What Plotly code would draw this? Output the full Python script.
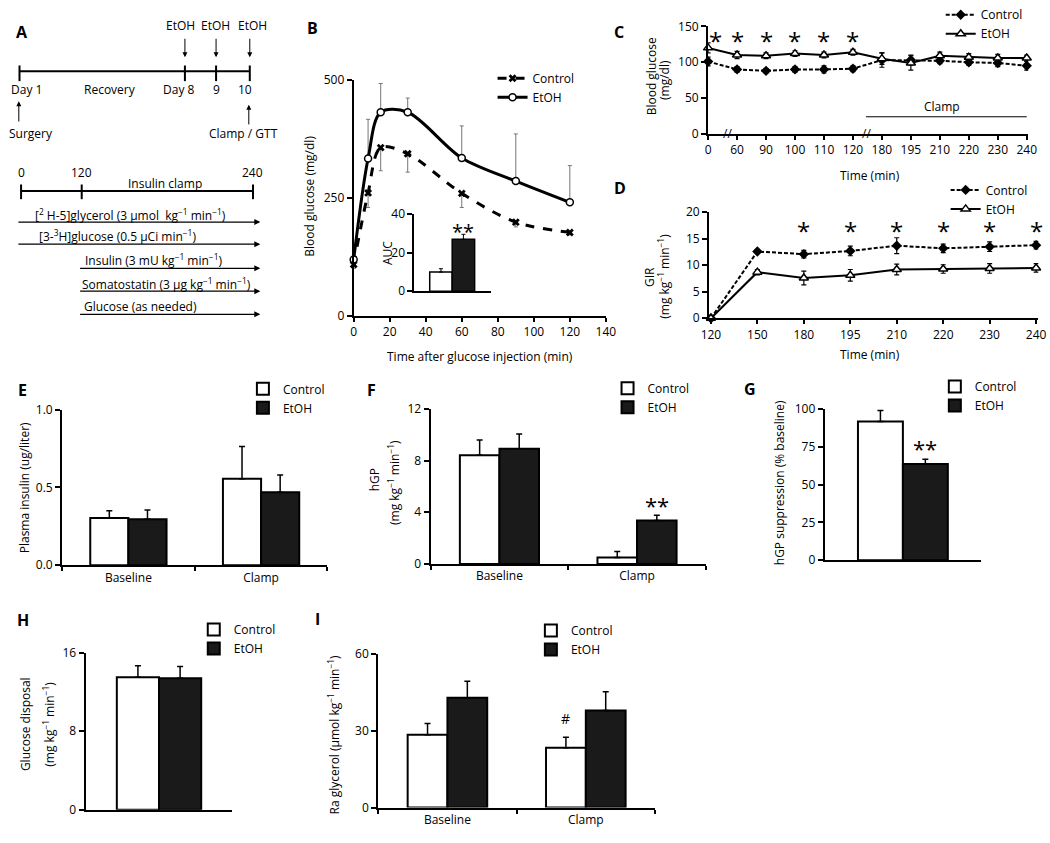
import plotly.graph_objects as go

W, H = 1050, 843
FONT = "Open Sans"

# ---------------- Panel B: glucose tolerance test ----------------
b_time = [0, 8, 15, 30, 60, 90, 120]
b_control = [109, 261, 357, 344, 260, 199, 177]
b_control_err = [8, 31, 49, 39, 30, 10, 5]
b_etoh = [120, 334, 432, 432, 335, 286, 241]
b_etoh_err = [5, 83, 61, 30, 68, 100, 78]
b_xticks = [0, 20, 40, 60, 80, 100, 120, 140]
b_yticks = [0, 250, 500]
b_star_time = [30]
b_star_value = [509]

auc_pos = [0, 1]
auc_values = [9.9, 26.8]
auc_err = [1.7, 2.6]
auc_yticks = [0, 20, 40]

# ---------------- Panel C: blood glucose during clamp ----------------
c_time_labels = ["0", "60", "90", "100", "110", "120", "180", "195", "210", "220", "230", "240"]
c_control = [101, 90, 88, 90, 90, 91, 103, 103, 102, 100, 99, 95]
c_control_err = [6, 4, 3, 4, 5, 4, 10, 7, 4, 4, 5, 6]
c_etoh = [120, 110, 109, 112, 110, 114, 105, 99, 109, 107, 106, 106]
c_etoh_err = [7, 5, 4, 4, 4, 4, 8, 10, 5, 5, 5, 4]
c_yticks = [0, 50, 100, 150]
c_star_pos = [0.25, 1, 2, 3, 4, 5]
c_star_value = 137

# ---------------- Panel D: GIR ----------------
d_time_labels = ["120", "150", "180", "195", "210", "220", "230", "240"]
d_control = [0, 12.6, 12.1, 12.7, 13.7, 13.2, 13.5, 13.8]
d_control_err = [0, 0.3, 0.7, 0.9, 1.5, 0.8, 0.9, 0.7]
d_etoh = [0, 8.7, 7.6, 8.1, 9.2, 9.3, 9.4, 9.5]
d_etoh_err = [0, 0.5, 1.3, 1.1, 1.0, 0.8, 0.9, 0.8]
d_yticks = [0, 5, 10, 15, 20]
d_star_pos = [2, 3, 4, 5, 6, 7]
d_star_value = 17.5

# ---------------- Bar panels ----------------
bar_cats = ["Baseline", "Clamp"]
e_control = [0.304, 0.555]
e_control_err = [0.046, 0.208]
e_etoh = [0.295, 0.469]
e_etoh_err = [0.060, 0.111]
e_yticks = [0.0, 0.5, 1.0]

f_control = [8.42, 0.5]
f_control_err = [1.18, 0.46]
f_etoh = [8.92, 3.36]
f_etoh_err = [1.14, 0.40]
f_yticks = [0, 4, 8, 12]

g_cat = ["hGP"]
g_control = [91.8]
g_control_err = [7.2]
g_etoh = [63.6]
g_etoh_err = [3.2]
g_yticks = [0, 25, 50, 75, 100]

h_cat = ["GD"]
h_control = [13.5]
h_control_err = [1.17]
h_etoh = [13.4]
h_etoh_err = [1.2]
h_yticks = [0, 8, 16]

i_control = [28.5, 23.4]
i_control_err = [4.4, 4.1]
i_etoh = [43.0, 38.0]
i_etoh_err = [6.4, 7.3]
i_yticks = [0, 30, 60]

# ---------------- helpers ----------------
def PX(x):
    return x / W

def PY(y):
    return 1 - y / H

def clamp01(v):
    return min(1.0, max(0.0, v))

def xd(a, b):
    return [clamp01(PX(a)), clamp01(PX(b))]

def yd(top, bottom):
    return [clamp01(PY(bottom)), clamp01(PY(top))]

GROUP_OFF = (1 - 0.425) / 4  # center offset of each bar in a 2-bar group

fig = go.Figure()

def up_err(err, color="black", thick=1.5, width=3):
    return dict(type="data", symmetric=False, array=err, arrayminus=[0] * len(err),
                color=color, thickness=thick, width=width)

def down_err(err, color="black", thick=1.5, width=3):
    return dict(type="data", symmetric=False, array=[0] * len(err), arrayminus=err,
                color=color, thickness=thick, width=width)

def sym_err(err):
    return dict(type="data", array=err, color="black", thickness=1.2, width=2.5)

# ---- B
fig.add_trace(go.Scatter(
    x=b_time, y=b_control, name="Control", mode="lines+markers",
    line=dict(color="black", width=3, dash="dash", shape="spline", smoothing=0.9),
    marker=dict(symbol="x", size=7, color="black"),
    error_y=down_err(b_control_err, color="#777", thick=1, width=2),
    xaxis="x", yaxis="y", legend="legend", cliponaxis=False))
fig.add_trace(go.Scatter(
    x=b_time, y=b_etoh, name="EtOH", mode="lines+markers",
    line=dict(color="black", width=3, shape="spline", smoothing=0.9),
    marker=dict(symbol="circle", size=7, color="white", line=dict(color="black", width=1.5)),
    error_y=up_err(b_etoh_err, color="#777", thick=1, width=2),
    xaxis="x", yaxis="y", legend="legend", cliponaxis=False))
fig.add_trace(go.Bar(
    x=auc_pos, y=auc_values, width=[1, 1], showlegend=False,
    marker=dict(color=["white", "#1a1a1a"], line=dict(color="black", width=1.5)),
    error_y=up_err(auc_err, thick=1, width=2), xaxis="x2", yaxis="y2"))

# ---- C
fig.add_trace(go.Scatter(
    x=list(range(len(c_time_labels))), y=c_control, name="Control", mode="lines+markers",
    line=dict(color="black", width=2, dash="4px,2px"),
    marker=dict(symbol="diamond", size=8, color="black"),
    error_y=sym_err(c_control_err), xaxis="x3", yaxis="y3", legend="legend2", cliponaxis=False))
fig.add_trace(go.Scatter(
    x=list(range(len(c_time_labels))), y=c_etoh, name="EtOH", mode="lines+markers",
    line=dict(color="black", width=2),
    marker=dict(symbol="triangle-up", size=8, color="white", line=dict(color="black", width=1.5)),
    error_y=sym_err(c_etoh_err), xaxis="x3", yaxis="y3", legend="legend2", cliponaxis=False))

# ---- D
fig.add_trace(go.Scatter(
    x=list(range(len(d_time_labels))), y=d_control, name="Control", mode="lines+markers",
    line=dict(color="black", width=2, dash="4px,2px"),
    marker=dict(symbol="diamond", size=8, color="black"),
    error_y=sym_err(d_control_err), xaxis="x4", yaxis="y4", legend="legend3", cliponaxis=False))
fig.add_trace(go.Scatter(
    x=list(range(len(d_time_labels))), y=d_etoh, name="EtOH", mode="lines+markers",
    line=dict(color="black", width=2),
    marker=dict(symbol="triangle-up", size=8, color="white", line=dict(color="black", width=1.5)),
    error_y=sym_err(d_etoh_err), xaxis="x4", yaxis="y4", legend="legend3", cliponaxis=False))

# ---- bar panels
def add_bars(cats, ctrl, ctrl_err, etoh, etoh_err, xa, ya, lg):
    fig.add_trace(go.Bar(x=cats, y=ctrl, name="Control",
                         marker=dict(color="white", line=dict(color="black", width=2)),
                         error_y=up_err(ctrl_err), xaxis=xa, yaxis=ya, legend=lg))
    fig.add_trace(go.Bar(x=cats, y=etoh, name="EtOH",
                         marker=dict(color="#1a1a1a", line=dict(color="black", width=2)),
                         error_y=up_err(etoh_err), xaxis=xa, yaxis=ya, legend=lg))

add_bars(bar_cats, e_control, e_control_err, e_etoh, e_etoh_err, "x5", "y5", "legend4")
add_bars(bar_cats, f_control, f_control_err, f_etoh, f_etoh_err, "x6", "y6", "legend5")
add_bars(g_cat, g_control, g_control_err, g_etoh, g_etoh_err, "x7", "y7", "legend6")
add_bars(h_cat, h_control, h_control_err, h_etoh, h_etoh_err, "x8", "y8", "legend7")
add_bars(bar_cats, i_control, i_control_err, i_etoh, i_etoh_err, "x9", "y9", "legend8")

# ---------------- axes ----------------
def yax(dom, rng, tickvals, anchor, size=12, lw=2, ticktext=None):
    d = dict(domain=dom, range=rng, tickmode="array", tickvals=tickvals,
             ticks="outside", ticklen=5, tickwidth=1.5, tickcolor="black",
             showline=True, linecolor="black", linewidth=lw, showgrid=False,
             zeroline=False, anchor=anchor, tickfont=dict(size=size, color="black"),
             fixedrange=True)
    if ticktext is not None:
        d["ticktext"] = ticktext
    return d

def xlin(dom, rng, tickvals, anchor, ticktext=None, size=12, lw=2, ticks="outside"):
    d = dict(domain=dom, range=rng, tickmode="array", tickvals=tickvals,
             ticks=ticks, ticklen=4, tickwidth=1.5, tickcolor="black",
             showline=True, linecolor="black", linewidth=lw, showgrid=False,
             zeroline=False, anchor=anchor, tickfont=dict(size=size, color="black"),
             fixedrange=True)
    if ticktext is not None:
        d["ticktext"] = ticktext
    return d

def xcat(dom, anchor, n, labels=True):
    return dict(domain=dom, type="category", range=[-0.5, n - 0.5],
                tickson="boundaries", ticks="outside" if labels else "", ticklen=4,
                tickwidth=1.5, tickcolor="black", showticklabels=labels,
                showline=True, linecolor="black", linewidth=2, showgrid=False,
                zeroline=False, anchor=anchor, tickfont=dict(size=12, color="black"),
                fixedrange=True)

layout = dict(
    autosize=True, margin=dict(l=0, r=0, t=0, b=0),
    paper_bgcolor="white", plot_bgcolor="white",
    font=dict(family=FONT, size=12, color="black"),
    barmode="group", bargap=0.425, bargroupgap=0,
    xaxis=xlin(xd(351.7, 608.3), [0, 140], b_xticks, "y"),
    yaxis=yax(yd(71.7, 312.7), [0, 500], b_yticks, "x"),
    xaxis2=xlin(xd(413.3, 491.7), [-1.19, 2.24], [], "y2", lw=1.5, ticks=""),
    yaxis2=yax(yd(208.3, 287.3), [0, 40], auc_yticks, "x2", lw=1.5),
    xaxis3=xlin(xd(712.3, 1038), [0, 11.05], list(range(len(c_time_labels))), "y3",
                ticktext=c_time_labels),
    yaxis3=yax(yd(16.7, 126.7), [0, 150], c_yticks, "x3"),
    xaxis4=xlin(xd(713.3, 1048.4), [-0.04, 7.05], list(range(len(d_time_labels))), "y4",
                ticktext=d_time_labels),
    yaxis4=yax(yd(206.7, 315), [0, 20], d_yticks, "x4"),
    xaxis5=xcat(xd(55, 325), "y5", 2),
    yaxis5=yax(yd(408.3, 567.3), [0, 1.0], e_yticks, "x5", ticktext=["0.0", "0.5", "1.0"]),
    xaxis6=xcat(xd(430, 710), "y6", 2),
    yaxis6=yax(yd(407.7, 566), [0, 12], f_yticks, "x6"),
    xaxis7=xcat(xd(831, 990), "y7", 1, labels=False),
    yaxis7=yax(yd(407.7, 562.3), [0, 100], g_yticks, "x7"),
    xaxis8=xcat(xd(79, 228.3), "y8", 1, labels=False),
    yaxis8=yax(yd(656.7, 817.3), [0, 16], h_yticks, "x8"),
    xaxis9=xcat(xd(376.7, 658.3), "y9", 2),
    yaxis9=yax(yd(658.3, 815), [0, 60], i_yticks, "x9"),
)

LEG_DY = 15  # first legend item center lies this far below the legend top
LEG_DX = 20  # symbol center lies this far right of the legend left

def leg(sym_x, first_y, size=12):
    return dict(x=PX(sym_x - LEG_DX), y=PY(first_y - LEG_DY), xanchor="left", yanchor="top",
                bgcolor="rgba(0,0,0,0)", font=dict(size=size, family=FONT, color="black"),
                tracegroupgap=0, itemwidth=30)

layout["legend"] = leg(513, 70)
layout["legend2"] = leg(969, 5)
layout["legend3"] = leg(974, 184)
layout["legend4"] = leg(259, 387.3)
layout["legend5"] = leg(630, 386.7)
layout["legend6"] = leg(963, 385)
layout["legend7"] = leg(209, 633.3)
layout["legend8"] = leg(552, 634.3)

# ---------------- annotations & shapes ----------------
anns = []
shapes = []

def text(t, x, y, size=12, xanchor="center", angle=0, bold=False):
    anns.append(dict(text=("<b>%s</b>" % t) if bold else t, x=PX(x), y=PY(y),
                     xref="paper", yref="paper", showarrow=False, xanchor=xanchor,
                     yanchor="middle", textangle=angle,
                     font=dict(size=size, family=FONT, color="black")))

def star(t, x, y, xr, yr, size=24):
    # asterisk glyphs sit high in the text box: shift down so the glyph is centred on y
    anns.append(dict(text=t, x=x, y=y, xref=xr, yref=yr, showarrow=False,
                     xanchor="center", yanchor="middle", yshift=-0.2 * size,
                     font=dict(size=size, family=FONT, color="black")))

def data_text(t, x, y, xr, yr, size=12):
    anns.append(dict(text=t, x=x, y=y, xref=xr, yref=yr, showarrow=False,
                     xanchor="center", yanchor="middle",
                     font=dict(size=size, family=FONT, color="black")))

def arrow(hx, hy, tx, ty, width=1.2):
    anns.append(dict(text="", x=PX(hx), y=PY(hy), xref="paper", yref="paper",
                     ax=tx - hx, ay=ty - hy, axref="pixel", ayref="pixel",
                     showarrow=True, arrowhead=2, arrowsize=1, arrowwidth=width,
                     arrowcolor="black"))

def pline(x0, y0, x1, y1, width=2):
    shapes.append(dict(type="line", xref="paper", yref="paper", x0=PX(x0), y0=PY(y0),
                       x1=PX(x1), y1=PY(y1), line=dict(color="black", width=width)))

# panel letters
for letter, lx, ly in [("A", 14, 22), ("B", 310, 18), ("C", 622, 22), ("D", 623, 182),
                       ("E", 15, 388), ("F", 370, 388), ("G", 755, 387),
                       ("H", 15, 623), ("I", 315, 622)]:
    text(letter, lx, ly, size=16, bold=True)

# ---- Panel A schematic
pline(11.7, 62.7, 246, 62.7)
for tx in [11.7, 180, 211.7, 246]:
    pline(tx, 56.7, tx, 72.7)
for lx, ax_ in [(175, 180), (210.7, 211.7), (248.3, 246)]:
    text("EtOH", lx, 16)
    arrow(ax_, 48.3, ax_, 28.3, width=1)
for t, lx in [("Day 1", 19), ("Recovery", 103.3), ("Day 8", 174), ("9", 211.7), ("10", 240.7)]:
    text(t, lx, 81.7)
arrow(11, 93.3, 11, 115, width=1)
arrow(245, 96.7, 245, 118, width=1)
text("Surgery", 23, 126.7)
text("Clamp / GTT", 240, 126.7)

text("0", 14, 166)
text("120", 75, 166)
text("240", 248.3, 166)
text("Insulin clamp", 160, 177.3)
pline(13.3, 185, 249.3, 185)
for tx in [13.3, 75, 249.3]:
    pline(tx, 178.3, tx, 193.3)

infusions = [
    ("[<sup>2</sup> H-5]glycerol (3 μmol  kg<sup>−1</sup> min<sup>−1</sup>)", 25, 209, 13.3, 216.7),
    ("[3-<sup>3</sup>H]glucose (0.5 μCi min<sup>−1</sup>)", 30, 231, 13.3, 239.3),
    ("Insulin (3 mU kg<sup>−1</sup> min<sup>−1</sup>)", 76.7, 255.5, 75, 264),
    ("Somatostatin (3 μg kg<sup>−1</sup> min<sup>−1</sup>)", 73.3, 279.5, 75, 287.3),
    ("Glucose (as needed)", 75, 303.3, 75, 311),
]
for t, lx, ly, x0, ay_ in infusions:
    text(t, lx, ly, xanchor="left")
    arrow(256.7, ay_, x0, ay_, width=1.2)

# ---- Panel B texts
text("Blood glucose (mg/dl)", 307, 190, angle=-90)
text("Time after glucose injection (min)", 480, 354)
text("AUC", 386, 248, angle=-90)
for t, v in zip(b_star_time, b_star_value):
    star("*", t, v, "x", "y")
star("**", auc_pos[1], 33, "x2", "y2", size=20)

# ---- Panel C texts
text("Blood glucose", 655, 68, angle=-90)
text("(mg/dl)", 668, 72, angle=-90)
text("Time (min)", 877, 169)
for p in c_star_pos:
    star("*", p, c_star_value, "x3", "y3")
data_text("Clamp", 8.06, 39, "x3", "y3")
shapes.append(dict(type="line", xref="x3", yref="y3", x0=5.45, x1=11, y0=24, y1=24,
                   line=dict(color="black", width=1)))
for p in [0.66, 5.46]:
    data_text("//", p, 0, "x3", "y3")

# ---- Panel D texts
text("GIR", 652, 273, angle=-90)
text("(mg kg<sup>−1</sup> min<sup>−1</sup>)", 668, 272, angle=-90)
text("Time (min)", 877, 352)
for p in d_star_pos:
    star("*", p, d_star_value, "x4", "y4")

# ---- Panel E-I texts
text("Plasma insulin (ug/liter)", 17, 488, angle=-90)
text("hGP", 373, 480, angle=-90)
text("(mg kg<sup>−1</sup> min<sup>−1</sup>)", 392, 483, angle=-90)
star("**", 1 + GROUP_OFF, 4.9, "x6", "y6", size=22)
text("hGP suppression (% baseline)", 785, 483, angle=-90)
star("**", 0 + GROUP_OFF, 77, "x7", "y7", size=22)
text("Glucose disposal", 18, 730, angle=-90)
text("(mg kg<sup>−1</sup> min<sup>−1</sup>)", 42, 730, angle=-90)
text("Ra glycerol (μmol kg<sup>−1</sup> min<sup>−1</sup>)", 332, 740, angle=-90)
data_text("#", 1 - GROUP_OFF, 35, "x9", "y9", size=14)

layout["annotations"] = anns
layout["shapes"] = shapes
fig.update_layout(**layout)

# the plot div is pinned to the window's top-left corner so the page margin cannot shift it
fig.write_html("out.html", include_plotlyjs=True, config={"displayModeBar": False},
               default_width="%dpx" % W,
               default_height="%dpx; position:fixed; top:0; left:0" % H)
